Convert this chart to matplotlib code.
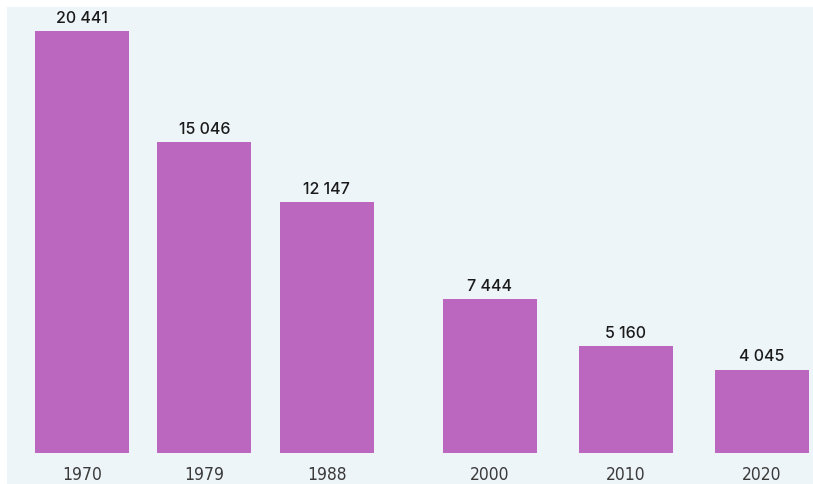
import matplotlib
matplotlib.use("Agg")
import matplotlib.pyplot as plt
from matplotlib.patches import Rectangle

years = [1970, 1979, 1988, 2000, 2010, 2020]
values = [20441, 15046, 12147, 7444, 5160, 4045]
value_labels = ["20 441", "15 046", "12 147", "7 444", "5 160", "4 045"]
tick_labels = ["1970", "1979", "1988", "2000", "2010", "2020"]

W, H = 813, 484
fig = plt.figure(figsize=(W / 100, H / 100), dpi=100, facecolor="white")
bg = "#eef5f8"
fig.patches.append(Rectangle((7 / W, 0), 1 - 7 / W, 1 - 7 / H, transform=fig.transFigure,
                             facecolor=bg, edgecolor="none", zorder=-10))

ax = fig.add_axes([7 / W, (H - 453) / H, 1 - 7 / W, (453 - 7) / H])
ax.set_zorder(1)
ax.set_facecolor("none")
ax.bar(years, values, width=6.9, color="#bb66bf", zorder=2)
ax.set_xlim(1964.49, 2023.75)
ax.set_ylim(0, 21609)

for x, v, lab in zip(years, values, value_labels):
    ax.annotate(lab, (x, v), xytext=(0, 4), textcoords="offset points", ha="center", va="bottom",
                fontsize=11.5, fontweight="medium", color="#1a1a1a", family=["Inter", "DejaVu Sans"])

ax.set_xticks(years)
ax.set_xticklabels(tick_labels, fontsize=12.5, color="#3a3a3a", fontstretch="condensed",
                   family=["DejaVu Sans"])
ax.tick_params(axis="x", length=0, pad=9)
ax.set_yticks([])
for s in ax.spines.values():
    s.set_visible(False)

fig.savefig("out.png", dpi=100, facecolor="white")
